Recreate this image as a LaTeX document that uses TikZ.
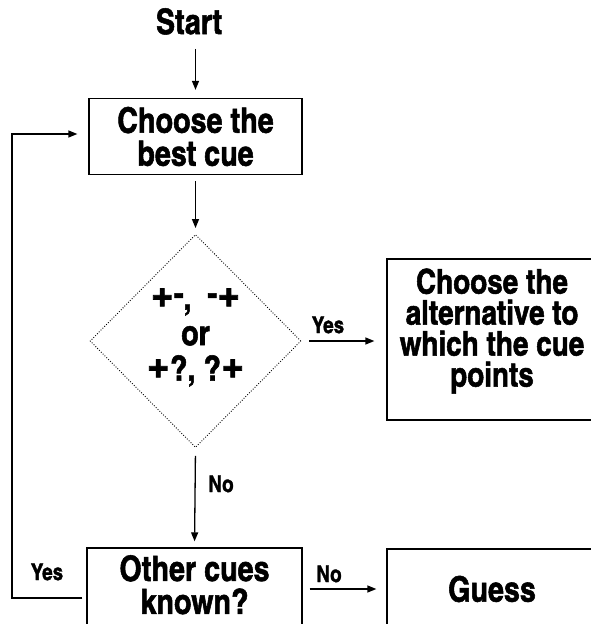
\documentclass[tikz,border=0pt]{standalone}
\usepackage{fontspec}
\setmainfont{TeX Gyre Heros Cn}[BoldFeatures={FakeBold=1.5}]
\usetikzlibrary{shapes.geometric,arrows.meta}
\newcommand{\pl}{\scalebox{1.4}{+}}
\newcommand{\mn}{\raisebox{.12em}{-}}
\begin{document}
\begin{tikzpicture}[x=1pt,y=-1pt,
  txt/.style={font=\fontsize{35}{33}\bfseries\selectfont, align=center, inner sep=0pt},
  lbl/.style={font=\fontsize{23}{23}\bfseries\selectfont, inner sep=0pt, anchor=base},
  box/.style={draw, line width=1.3pt, rectangle, inner sep=0pt},
  arr/.style={-{Triangle[length=9pt,width=7pt]}, line width=1.3pt},
  dots/.style={draw, line width=0.9pt, dash pattern=on 0.9pt off 1.7pt},
]
\useasboundingbox (0,0) rectangle (591,624);
\clip (0,0) rectangle (591,624);

\node[txt, anchor=base] (start) at (189,34) {Start};
\node[box, txt, minimum width=213pt, minimum height=76pt] (best) at (195.5,136.5) {Choose the\\best cue};
\node[diamond, dots, minimum width=211pt, minimum height=213pt, inner sep=0pt] (dia) at (195.5,341) {};
\node[txt, font=\fontsize{35}{35.5}\bfseries\selectfont] (diatext) at (195.5,337.5)
  {\pl\mn,\ \ \mn\pl\\or\\\pl?,\ ?\pl};
\node[box, txt, font=\fontsize{34}{31}\bfseries\selectfont, minimum width=210pt, minimum height=161pt, text depth=24pt] (alt) at (492,339.5)
  {Choose the\\alternative to\\which the cue\\points};
\node[box, txt, font=\fontsize{35}{33}\bfseries\selectfont, minimum width=215pt, minimum height=82pt, text depth=9pt] (other) at (194.5,589) {Other cues\\known?};
\node[box, txt, minimum width=210pt, minimum height=80pt] (guess) at (492,589) {Guess};

\node[lbl] (yes1) at (328,333) {Yes};
\node[lbl] (no1) at (221,492) {No};
\node[lbl] (no2) at (329,582) {No};
\node[lbl] (yes2) at (47,580) {Yes};

\coordinate (lc) at (12,134);

\draw[arr, shorten <=14pt, shorten >=8pt] (start.south -| best.north) -- (best.north);
\draw[arr, shorten <=6pt, shorten >=6pt] (best.south) -- (dia.north);
\draw[arr, shorten <=8pt, shorten >=6pt] (dia.south) -- (other.north);
\draw[arr, shorten <=8pt, shorten >=12pt] (dia.east) -- (dia.east -| alt.west);
\draw[arr, shorten <=7pt, shorten >=10pt] (other.east) -- (other.east -| guess.west);
\draw[arr, shorten >=11pt] ([shift={(-4pt,-9pt)}]other.west) -| (lc) -- (best.west |- lc);
\end{tikzpicture}
\end{document}
